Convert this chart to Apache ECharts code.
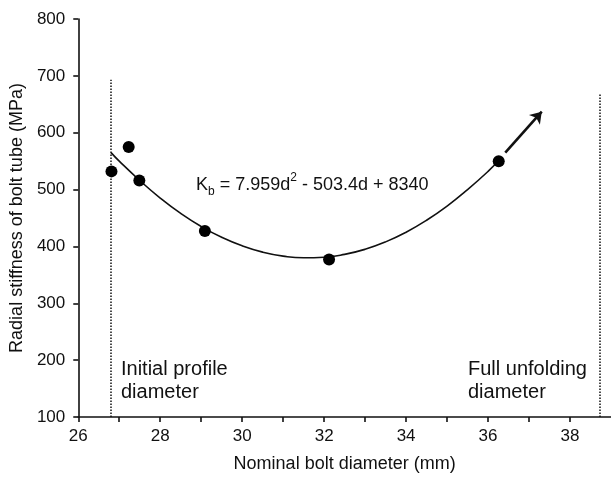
<!DOCTYPE html>
<html><head><meta charset="utf-8">
<script src="https://cdn.jsdelivr.net/npm/echarts@6/dist/echarts.min.js"></script>
<style>html,body{margin:0;padding:0;background:#fff}#c{width:611px;height:478px}</style>
</head><body><div id="c"></div>
<script>
// measured data points (nominal diameter mm, radial stiffness MPa)
const pointX = [26.81, 27.23, 27.49, 29.09, 32.12, 36.26];
const pointY = [532, 575, 516, 427, 377, 550];
// trend curve
const fitX = [26.8, 27.0, 27.5, 28, 28.5, 29, 29.5, 30, 30.5, 31, 31.5, 32, 32.5, 33, 33.5, 34, 34.5, 35, 35.5, 36, 36.26];
const fitY = [565, 550, 516, 485, 458, 435, 416, 401, 390, 383, 380, 381, 386, 395, 408, 425, 446, 471, 500, 532, 551];
// arrow continuing the trend
const arrowFrom = [36.42, 565];
const arrowTo = [37.31, 637];
// reference (dotted) diameters
const refX = [26.8, 38.72];
const refTop = [693, 670];
const refLabels = ['Initial profile\ndiameter', 'Full unfolding\ndiameter'];
const xTitle = 'Nominal bolt diameter (mm)';
const yTitle = 'Radial stiffness of bolt tube (MPa)';

const FONT = '"Liberation Sans", Arial, Helvetica, sans-serif';
const INK = '#111';

const chart = echarts.init(document.getElementById('c'), null, {renderer: 'canvas'});
const zip = (a, b) => a.map((v, i) => [v, b[i]]);

chart.setOption({
  animation: false,
  backgroundColor: '#fff',
  grid: {left: 75, top: 19, right: -1.5, bottom: 56.3, containLabel: false},
  xAxis: {
    type: 'value', min: 26, max: 39, interval: 1,
    name: xTitle, nameLocation: 'middle', nameGap: 38,
    nameTextStyle: {fontFamily: FONT, fontSize: 18, color: INK},
    axisLine: {show: true, onZero: false, lineStyle: {color: INK, width: 1.6}},
    axisTick: {show: true, inside: false, length: 5, lineStyle: {color: INK, width: 1.6}},
    axisLabel: {fontFamily: FONT, fontSize: 17, color: INK, margin: 11,
      formatter: v => (Math.round(v) % 2 === 0 ? String(v) : ''),
      showMaxLabel: false},
    splitLine: {show: false}
  },
  yAxis: {
    type: 'value', min: 100, max: 800, interval: 100,
    name: yTitle, nameLocation: 'middle', nameGap: 48, nameRotate: 90,
    nameTextStyle: {fontFamily: FONT, fontSize: 18, color: INK},
    axisLine: {show: true, onZero: false, lineStyle: {color: INK, width: 1.6}},
    axisTick: {show: true, inside: false, length: 5, lineStyle: {color: INK, width: 1.6}},
    axisLabel: {fontFamily: FONT, fontSize: 17, color: INK, margin: 13},
    splitLine: {show: false}
  },
  series: [
    {
      type: 'line', data: zip(fitX, fitY), smooth: true, symbol: 'none',
      lineStyle: {color: INK, width: 1.6}, z: 3,
      markLine: {
        silent: true, symbol: ['none', 'none'], label: {show: false},
        lineStyle: {color: INK, width: 1.5, type: [1.5, 1.5]},
        data: refX.map((x, i) => [{coord: [x, 100]}, {coord: [x, refTop[i]]}])
      }
    },
    {
      type: 'line', data: [], symbol: 'none',
      markLine: {
        silent: true, symbol: ['none', 'arrow'], symbolSize: 11, label: {show: false},
        lineStyle: {color: INK, width: 2.6, type: 'solid'},
        data: [[{coord: arrowFrom}, {coord: arrowTo}]]
      }
    },
    {
      type: 'scatter', data: zip(pointX, pointY), symbol: 'circle', symbolSize: 12,
      itemStyle: {color: '#000', opacity: 1}, z: 5
    }
  ],
  graphic: [
    {
      type: 'text', left: 196, top: 172, z: 10,
      style: {
        text: '{k|K}{sub|b}{n| = 7.959d}{sup|2}{n| - 503.4d + 8340}',
        fill: INK,
        rich: {
          k: {fontFamily: FONT, fontSize: 18, lineHeight: 26, fill: INK, verticalAlign: 'middle'},
          n: {fontFamily: FONT, fontSize: 18, lineHeight: 26, fill: INK, verticalAlign: 'middle'},
          sub: {fontFamily: FONT, fontSize: 12, lineHeight: 12, fill: INK, verticalAlign: 'bottom'},
          sup: {fontFamily: FONT, fontSize: 12, lineHeight: 12, fill: INK, verticalAlign: 'top'}
        }
      }
    },
    {
      type: 'text', left: 121, top: 358, z: 10,
      style: {text: refLabels[0], font: '20px ' + FONT, lineHeight: 23, fill: INK}
    },
    {
      type: 'text', left: 468, top: 358, z: 10,
      style: {text: refLabels[1], font: '20px ' + FONT, lineHeight: 23, fill: INK}
    }
  ]
});
</script></body></html>
